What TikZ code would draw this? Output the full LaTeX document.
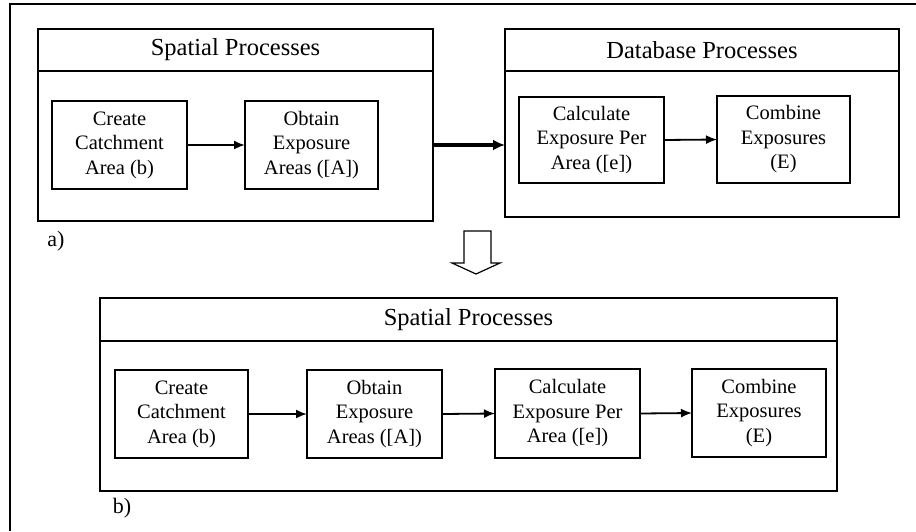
\documentclass[tikz,border=0pt]{standalone}
\usepackage{fontspec}
\setmainfont{Liberation Serif}
\usetikzlibrary{arrows.meta,calc}

\tikzset{
  panel/.style={draw, line width=2pt, inner sep=0pt, outer sep=0pt, anchor=north west},
  task/.style={draw, line width=1.8pt, inner sep=0pt, outer sep=0pt, align=center,
               font=\fontsize{20.5}{24.5}\selectfont},
  paneltitle/.style={inner sep=0pt, font=\fontsize{24.5}{28}\selectfont},
  tag/.style={inner sep=0pt, font=\fontsize{22}{24}\selectfont},
  flow/.style={-{Latex[length=11pt,width=9pt]}, line width=1.8pt},
  bigflow/.style={-{Latex[length=12pt,width=11pt]}, line width=3.2pt},
  divider/.style={line width=2pt},
  frame/.style={line width=2pt},
}

\begin{document}
\begin{tikzpicture}[x=1pt,y=-1pt]
  \useasboundingbox (0,0) rectangle (916,531);

  % surrounding frame (only its top and left edges fall on the page)
  \draw[frame] (10,531) -- (10,4) -- (916,4);

  % ---- a) two separate process groups ----
  \node[panel, minimum width=395pt, minimum height=192pt] (A) at (38,29) {};
  \draw[divider] (38,71) -- (433,71);
  \node[paneltitle] (At) at (235.5,50) {Spatial Processes};

  \node[task, minimum width=135pt, minimum height=88pt] (A1) at (119.5,145) {Create\\Catchment\\Area (b)};
  \node[task, minimum width=133pt, minimum height=88pt] (A2) at (311.5,145) {Obtain\\Exposure\\Areas ([A])};
  \draw[flow] (A1.east) -- (A2.west);

  \node[panel, minimum width=394pt, minimum height=188pt] (B) at (505,29) {};
  \draw[divider] (505,71) -- (899,71);
  \node[paneltitle] (Bt) at (702,50) {Database Processes};

  \node[task, minimum width=145pt, minimum height=86pt] (B1) at (591.5,140) {Calculate\\Exposure Per\\Area ([e])};
  \node[task, minimum width=133pt, minimum height=87pt] (B2) at (783.5,139.5) {Combine\\Exposures\\(E)};
  \draw[flow] (B1.east) -- (B2.west);

  \draw[bigflow] (A2 -| A.east) -- (A2 -| B.west);

  \node[tag] (la) at (56,241) {a)};

  % hollow block arrow pointing down to the merged workflow
  \draw[line width=1.2pt, fill=white]
    (464,231) -- (491,231) -- (491,263) -- (500,263) -- (476,274)
    -- (452,263) -- (464,263) -- cycle;

  % ---- b) single spatial process group ----
  \node[panel, minimum width=737pt, minimum height=193pt] (C) at (100,298) {};
  \draw[divider] (100,341) -- (837,341);
  \node[paneltitle] (Ct) at (468.5,319.5) {Spatial Processes};

  \node[task, minimum width=133pt, minimum height=88pt] (C1) at (181.5,414) {Create\\Catchment\\Area (b)};
  \node[task, minimum width=135pt, minimum height=88pt] (C2) at (374.5,414) {Obtain\\Exposure\\Areas ([A])};
  \node[task, minimum width=145pt, minimum height=89pt] (C3) at (567.5,413.5) {Calculate\\Exposure Per\\Area ([e])};
  \node[task, minimum width=134pt, minimum height=88pt] (C4) at (759,413) {Combine\\Exposures\\(E)};
  \draw[flow] (C1.east) -- (C2.west);
  \draw[flow] (C2.east) -- (C3.west);
  \draw[flow] (C3.east) -- (C4.west);

  \node[tag] (lb) at (122,508) {b)};
\end{tikzpicture}
\end{document}
